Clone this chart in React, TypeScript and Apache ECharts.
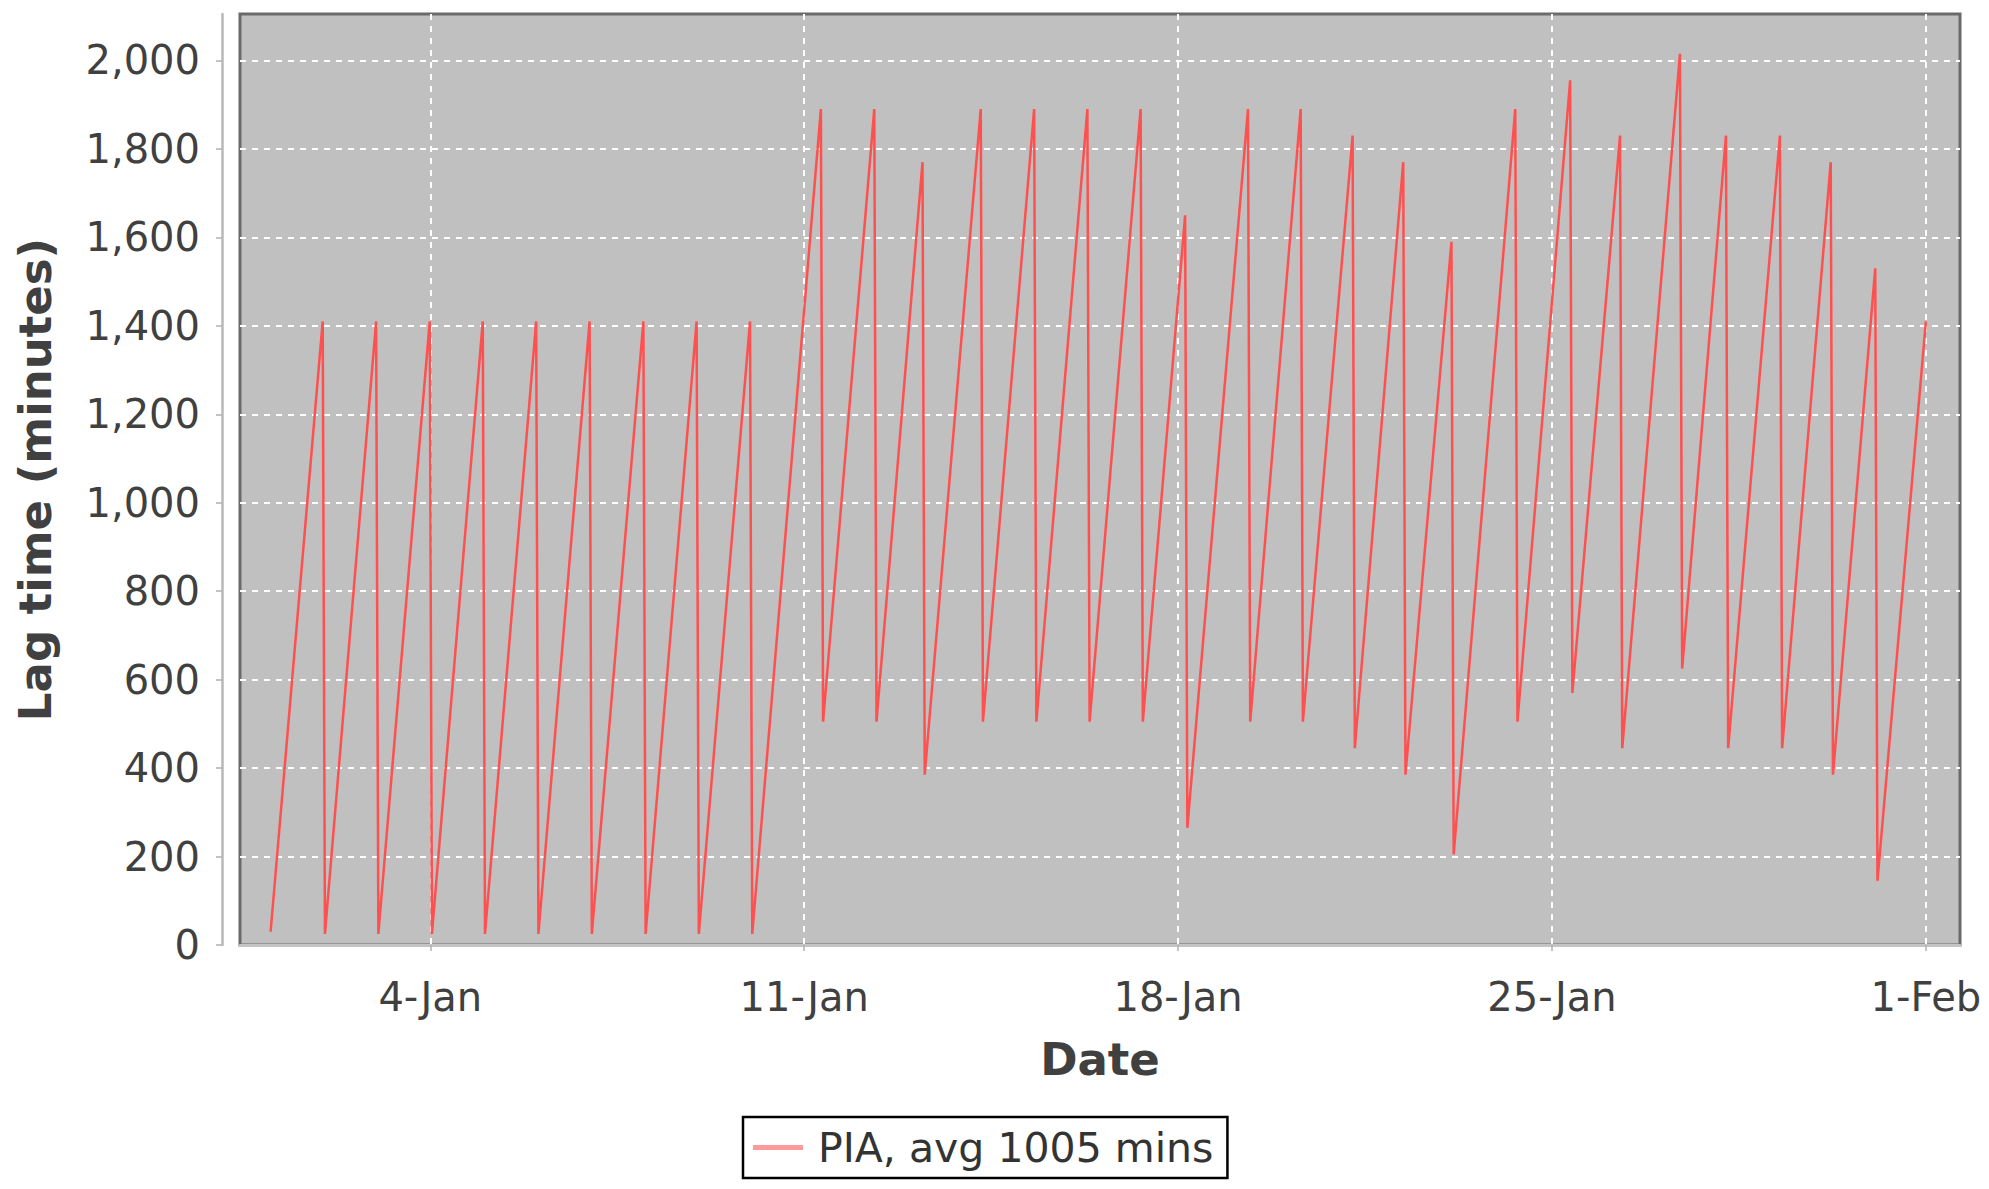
import React, { useEffect, useRef } from "react";
import * as echarts from "echarts";

// ---- data ----
const seriesName = "PIA, avg 1005 mins";
const times: string[] = [
  "2018-01-01T00:15", "2018-01-01T23:40", "2018-01-02T00:40", "2018-01-02T23:40",
  "2018-01-03T00:40", "2018-01-03T23:45", "2018-01-04T00:45", "2018-01-04T23:35",
  "2018-01-05T00:35", "2018-01-05T23:35", "2018-01-06T00:35", "2018-01-06T23:35",
  "2018-01-07T00:35", "2018-01-07T23:45", "2018-01-08T00:45", "2018-01-08T23:40",
  "2018-01-09T00:40", "2018-01-09T23:40", "2018-01-10T00:40",
  "2018-01-11T07:30", "2018-01-11T08:30", "2018-01-12T07:30", "2018-01-12T08:30",
  "2018-01-13T05:10", "2018-01-13T06:10", "2018-01-14T07:20", "2018-01-14T08:20",
  "2018-01-15T07:20", "2018-01-15T08:20", "2018-01-16T07:15", "2018-01-16T08:15",
  "2018-01-17T07:10", "2018-01-17T08:10", "2018-01-18T03:10", "2018-01-18T04:10",
  "2018-01-19T07:25", "2018-01-19T08:25", "2018-01-20T07:05", "2018-01-20T08:05",
  "2018-01-21T06:25", "2018-01-21T07:25", "2018-01-22T05:10", "2018-01-22T06:10",
  "2018-01-23T02:50", "2018-01-23T03:50", "2018-01-24T07:30", "2018-01-24T08:30",
  "2018-01-25T08:10", "2018-01-25T09:10", "2018-01-26T06:35", "2018-01-26T07:35",
  "2018-01-27T09:30", "2018-01-27T10:30", "2018-01-28T06:10", "2018-01-28T07:10",
  "2018-01-29T06:25", "2018-01-29T07:25", "2018-01-30T05:15", "2018-01-30T06:15",
  "2018-01-31T01:15", "2018-01-31T02:15", "2018-02-01T00:00",
];
const lagMinutes: number[] = [
  30, 1410, 25, 1410,
  25, 1410, 25, 1410,
  25, 1410, 25, 1410,
  25, 1410, 25, 1410,
  25, 1410, 25,
  1890, 505, 1890, 505,
  1770, 385, 1890, 505,
  1890, 505, 1890, 505,
  1890, 505, 1650, 265,
  1890, 505, 1890, 505,
  1830, 445, 1770, 385,
  1590, 205, 1890, 505,
  1955, 570, 1830, 445,
  2015, 625, 1830, 445,
  1830, 445, 1770, 385,
  1530, 145, 1410,
];
const xTickDates: string[] = ["2018-01-04T00:00", "2018-01-11T00:00", "2018-01-18T00:00", "2018-01-25T00:00", "2018-02-01T00:00"];
const yTicks: number[] = [0, 200, 400, 600, 800, 1000, 1200, 1400, 1600, 1800, 2000];
const xRange: string[] = ["2017-12-31T10:30", "2018-02-01T15:20"];
const yRange: number[] = [0, 2105];
const monthNames: string[] = ["Jan", "Feb", "Mar", "Apr", "May", "Jun", "Jul", "Aug", "Sep", "Oct", "Nov", "Dec"];

const ts = (s: string) => new Date(s + ":00Z").getTime();
const FONT = "DejaVu Sans";

export default function App() {
  const ref = useRef<HTMLDivElement>(null);
  useEffect(() => {
    if (!ref.current) return;
    const chart = echarts.init(ref.current, undefined, { renderer: "svg" });
    const data = times.map((t, i) => [ts(t), lagMinutes[i]]);
    const xTicks = xTickDates.map(ts);
    chart.setOption({
      animation: false,
      backgroundColor: "#ffffff",
      grid: {
        left: 240,
        top: 14,
        width: 1720,
        height: 931,
        show: true,
        backgroundColor: "#c0c0c0",
        borderColor: "#6a6a6a",
        borderWidth: 3,
      },
      legend: {
        left: 743,
        top: 1117,
        orient: "horizontal",
        backgroundColor: "#ffffff",
        borderColor: "#000000",
        borderWidth: 2.5,
        borderRadius: 0,
        padding: [10, 14, 10, 10],
        itemWidth: 50,
        itemHeight: 5,
        icon: "rect",
        itemStyle: { color: "#ff9a9a" },
        textStyle: { fontFamily: FONT, fontSize: 41, color: "#333333", padding: [0, 0, 0, 10] },
        data: [seriesName],
      },
      xAxis: {
        type: "value",
        min: ts(xRange[0]),
        max: ts(xRange[1]),
        position: "bottom",
        offset: 17,
        name: "Date",
        nameLocation: "middle",
        nameGap: 75,
        nameTextStyle: { fontFamily: FONT, fontSize: 45, fontWeight: "bold", color: "#404040" },
        axisLine: { show: true, lineStyle: { color: "#c4c4c4", width: 3 } },
        axisTick: {
          show: true,
          length: 6,
          lineStyle: { color: "#b0b0b0", width: 1.5 },
          customValues: xTicks,
        },
        axisLabel: {
          fontFamily: FONT,
          fontSize: 40,
          color: "#404040",
          margin: 15,
          customValues: xTicks,
          formatter: (v: number) => {
            const d = new Date(v);
            return d.getUTCDate() + "-" + monthNames[d.getUTCMonth()];
          },
        },
        splitLine: {
          show: true,
          lineStyle: { color: "#ffffff", width: 2, type: [6, 6] },
        },
      },
      yAxis: {
        type: "value",
        min: yRange[0],
        max: yRange[1],
        interval: 200,
        position: "left",
        offset: 18,
        name: "Lag time (minutes)",
        nameLocation: "middle",
        nameGap: 164,
        nameTextStyle: { fontFamily: FONT, fontSize: 45, fontWeight: "bold", color: "#404040" },
        axisLine: { show: true, lineStyle: { color: "#b8b8b8", width: 2.5 } },
        axisTick: {
          show: true,
          length: 6,
          lineStyle: { color: "#b0b0b0", width: 1.5 },
          customValues: yTicks,
        },
        axisLabel: {
          fontFamily: FONT,
          fontSize: 40,
          color: "#404040",
          margin: 22,
          customValues: yTicks,
          formatter: (v: number) => v.toLocaleString("en-US"),
        },
        splitLine: {
          show: true,
          showMinLine: false,
          lineStyle: { color: "#ffffff", width: 2, type: [6, 6] },
        },
      },
      series: [
        {
          name: seriesName,
          type: "line",
          data,
          symbol: "none",
          lineStyle: { color: "#ff5050", width: 2.5 },
          itemStyle: { color: "#ff5050" },
        },
      ],
    });
    return () => chart.dispose();
  }, []);
  return (
    <div
      ref={ref}
      style={{ position: "fixed", left: 0, top: 0, width: 1989, height: 1189, background: "#fff" }}
    />
  );
}
